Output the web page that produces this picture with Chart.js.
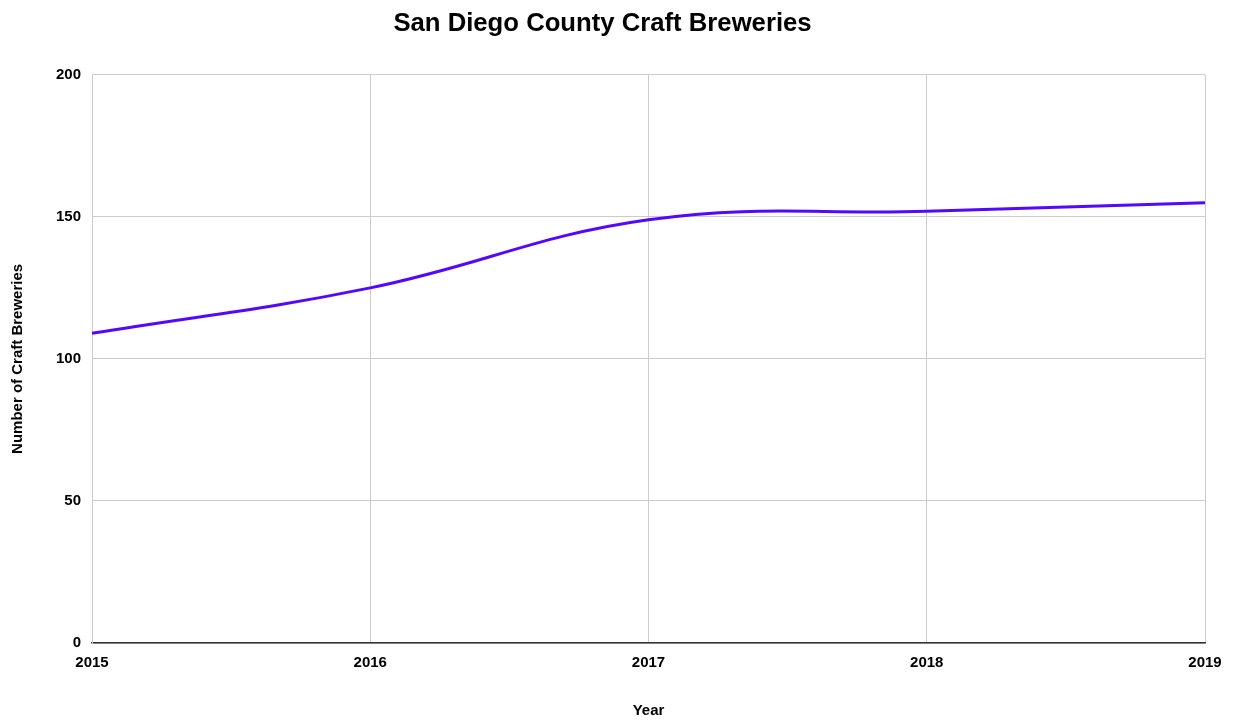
<!DOCTYPE html>
<html>
<head>
<meta charset="utf-8">
<script src="https://cdn.jsdelivr.net/npm/chart.js@4/dist/chart.umd.min.js"></script>
<style>
  html, body { margin: 0; padding: 0; background: #fff; }
  #wrap { width: 1233px; height: 724px; }
</style>
</head>
<body>
<div id="wrap"><canvas id="breweryChart"></canvas></div>
<script>
const years = ['2015', '2016', '2017', '2018', '2019'];
const breweries = [109, 125, 149, 152, 155];
const yTicks = [0, 50, 100, 150, 200];

const fontFamily = '"Liberation Sans", Arial, sans-serif';
const gridColor = '#cccccc';

const ctx = document.getElementById('breweryChart').getContext('2d');
const chart = new Chart(ctx, {
    type: 'line',
    data: {
        labels: years,
        datasets: [{
            label: 'Number of Craft Breweries',
            data: breweries,
            borderColor: '#5309ff',
            borderWidth: 3,
            pointRadius: 0,
            tension: 0.4,
            fill: false
        }]
    },
    options: {
        responsive: true,
        maintainAspectRatio: false,
        animation: false,
        layout: { padding: { left: 0, right: 28, top: 0, bottom: 0 } },
        plugins: {
            legend: { display: false },
            tooltip: { enabled: false },
            title: {
                display: true,
                text: 'San Diego County Craft Breweries',
                color: '#000',
                font: { family: fontFamily, size: 25.7, weight: 'bold', lineHeight: 1.2 },
                padding: { top: 8, bottom: 36 }
            }
        },
        scales: {
            x: {
                grid: { color: gridColor, drawTicks: false },
                border: { color: '#333', width: 1.5 },
                ticks: {
                    color: '#000',
                    font: { family: fontFamily, size: 15, weight: 'bold' },
                    padding: 11,
                    maxRotation: 0
                },
                title: {
                    display: true,
                    text: 'Year',
                    color: '#000',
                    font: { family: fontFamily, size: 15, weight: 'bold', lineHeight: 1.2 },
                    padding: { top: 0, bottom: 4 }
                },
                afterFit: function(scale) { scale.height = 81; }
            },
            y: {
                min: 0,
                max: 200,
                afterBuildTicks: function(scale) {
                    scale.ticks = yTicks.map(v => ({ value: v }));
                },
                grid: { color: gridColor, drawTicks: false },
                border: { color: gridColor, width: 1 },
                ticks: {
                    color: '#000',
                    font: { family: fontFamily, size: 15, weight: 'bold' },
                    padding: 11
                },
                title: {
                    display: true,
                    text: 'Number of Craft Breweries',
                    color: '#000',
                    font: { family: fontFamily, size: 15, weight: 'bold', lineHeight: 1.2 },
                    padding: { top: 9, bottom: 0 }
                },
                afterFit: function(scale) { scale.width = 92; }
            }
        }
    }
});
</script>
</body>
</html>
